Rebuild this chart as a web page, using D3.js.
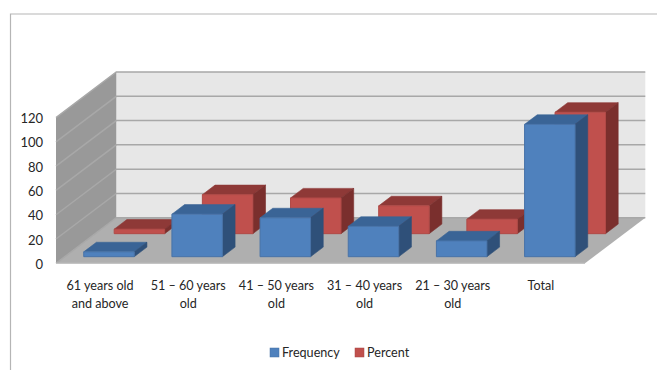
<!DOCTYPE html>
<html>
<head>
<meta charset="utf-8">
<style>
  html, body { margin: 0; padding: 0; background: #fff; }
  svg { display: block; }
  text { font-family: Lato, "Open Sans", sans-serif; font-size: 12.6px; fill: #262626; }
</style>
<script src="https://cdn.jsdelivr.net/npm/d3@7"></script>
</head>
<body>
<svg id="chart" width="657" height="370"></svg>
<script>
const categories = ["61 years old|and above", "51 – 60 years|old", "41 – 50 years|old", "31 – 40 years|old", "21 – 30 years|old", "Total"];
const frequency = [4, 35, 32, 25, 13, 109];
const percent = [3.7, 32.1, 29.4, 22.9, 11.9, 100];
const yTicks = [0, 20, 40, 60, 80, 100, 120];
const seriesNames = ["Frequency", "Percent"];

const svg = d3.select("#chart");

// Oblique projection: x along the category axis, depth runs from 0 (front) to 1 (back wall)
const depthX = 60.3, depthY = -45.6;
const x = d3.scaleBand().domain(d3.range(categories.length)).range([56, 585]);
const y = d3.scaleLinear().domain([0, 120]).range([263.3, 117.6]);
const project = (px, py, depth) => [px + depth * depthX, py + depth * depthY];
const poly = pts => "M" + pts.map(p => p.join(",")).join("L") + "Z";

const left = x.range()[0], right = x.range()[1], y0 = y(0), yMax = y(120);

// Outer chart frame (top and left edges are visible)
svg.append("path").attr("d", "M10.5,370V14H657")
  .attr("fill", "none").attr("stroke", "#b5b5b5").attr("stroke-width", 1.2);

// Walls and floor
svg.append("path")
  .attr("d", poly([project(left, yMax, 1), project(right, yMax, 1), project(right, y0, 1), project(left, y0, 1)]))
  .attr("fill", "#e7e7e7");
svg.append("path")
  .attr("d", poly([project(left, yMax, 0), project(left, yMax, 1), project(left, y0, 1), project(left, y0, 0)]))
  .attr("fill", "#999999");
svg.append("path")
  .attr("d", poly([project(left, y0, 0), project(left, y0, 1), project(right, y0, 1), project(right, y0, 0)]))
  .attr("fill", "#afafaf");

// Gridlines wrapping around the side wall and back wall
svg.append("g").selectAll("path").data(yTicks).join("path")
  .attr("d", t => "M" + [project(left, y(t), 0), project(left, y(t), 1), project(right, y(t), 1)].map(p => p.join(",")).join("L"))
  .attr("fill", "none")
  .attr("stroke", "#a8a8a8")
  .attr("stroke-width", 1.5);
// Pale front edge of the floor
svg.append("path")
  .attr("d", "M" + [project(left, y0, 0), project(right, y0, 0)].map(p => p.join(",")).join("L"))
  .attr("stroke", "#c4c4c4").attr("stroke-width", 1.2);

// One 3D bar: front, top and side faces
const barWidth = 50.5, barGap = 19, barDepth = 0.21;
const series = [
  { values: percent, depth: 0.65, front: "#c0504d", top: "#8e3937", side: "#7a2f2d", edge: "#b04a47" },
  { values: frequency, depth: 0.145, front: "#4f81bd", top: "#3a6496", side: "#2f5079", edge: "#4873a8" }
];

series.forEach(s => {
  const bars = svg.append("g").selectAll("g").data(s.values).join("g");
  const corners = (v, i) => {
    const xl = x(i) + barGap, xr = xl + barWidth;
    return { xl, xr, yt: y(v), yb: y(0), d0: s.depth, d1: s.depth + barDepth };
  };
  bars.append("path")
    .attr("d", (v, i) => {
      const c = corners(v, i);
      return poly([project(c.xl, c.yt, c.d0), project(c.xl, c.yt, c.d1), project(c.xr, c.yt, c.d1), project(c.xr, c.yt, c.d0)]);
    })
    .attr("fill", s.top).attr("stroke", s.top).attr("stroke-width", 0.6);
  bars.append("path")
    .attr("d", (v, i) => {
      const c = corners(v, i);
      return poly([project(c.xr, c.yt, c.d0), project(c.xr, c.yt, c.d1), project(c.xr, c.yb, c.d1), project(c.xr, c.yb, c.d0)]);
    })
    .attr("fill", s.side).attr("stroke", s.side).attr("stroke-width", 0.6);
  bars.append("path")
    .attr("d", (v, i) => {
      const c = corners(v, i);
      return poly([project(c.xl, c.yt, c.d0), project(c.xr, c.yt, c.d0), project(c.xr, c.yb, c.d0), project(c.xl, c.yb, c.d0)]);
    })
    .attr("fill", s.front).attr("stroke", s.edge).attr("stroke-width", 1);
});

// Value axis
const yAxis = svg.append("g").attr("transform", "translate(43,0.5)")
  .call(d3.axisLeft(y).tickValues(yTicks).tickSize(0).tickPadding(0));
yAxis.select(".domain").remove();
yAxis.selectAll("text").style("font-size", "13px").attr("dy", "0.35em");

// Category labels, wrapped on two lines
const labels = svg.append("g").selectAll("text").data(categories).join("text")
  .attr("text-anchor", "middle")
  .attr("y", 289.5);
labels.selectAll("tspan").data((d, i) => d.split("|").map(t => ({ t, i }))).join("tspan")
  .attr("x", d => x(d.i) + x.bandwidth() / 2)
  .attr("dy", (d, j) => j === 0 ? 0 : 18)
  .text(d => d.t);

// Legend
const legendColors = ["#4f81bd", "#c0504d"];
const legendX = [270, 355];
const legend = svg.append("g").selectAll("g").data(seriesNames).join("g")
  .attr("transform", (d, i) => `translate(${legendX[i]},348)`);
legend.append("rect").attr("width", 9).attr("height", 9)
  .attr("fill", (d, i) => legendColors[i])
  .attr("stroke", (d, i) => d3.color(legendColors[i]).darker(0.4)).attr("stroke-width", 0.5);
legend.append("text").attr("x", 12).attr("y", 9).text(d => d);
</script>
</body>
</html>
